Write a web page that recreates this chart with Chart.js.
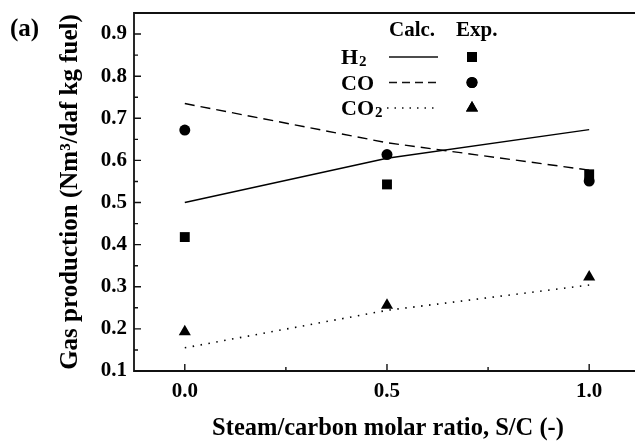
<!DOCTYPE html>
<html>
<head>
<meta charset="utf-8">
<script src="https://cdn.jsdelivr.net/npm/chart.js@4.4.0/dist/chart.umd.min.js"></script>
<style>
  html, body { margin: 0; padding: 0; background: #fff; overflow: hidden; }
  canvas { display: block; }
</style>
</head>
<body>
<canvas id="c" width="635" height="442"></canvas>
<script>
// ---- data ----
const ratios = [0.0, 0.5, 1.0];               // steam/carbon molar ratio
const h2Calc  = [0.500, 0.605, 0.673];
const coCalc  = [0.735, 0.642, 0.577];
const co2Calc = [0.155, 0.244, 0.304];
const h2Exp   = [0.418, 0.543, 0.567];
const coExp   = [0.672, 0.614, 0.551];
const co2Exp  = [0.193, 0.256, 0.323];
const xTickValues = [0.0, 0.5, 1.0];
const xMinorValues = [0.25, 0.75];
const yTickValues = [0.1, 0.2, 0.3, 0.4, 0.5, 0.6, 0.7, 0.8, 0.9];
const yMinorValues = [0.15, 0.25, 0.35, 0.45, 0.55, 0.65, 0.75, 0.85];
const xTitle = 'Steam/carbon molar ratio, S/C (-)';
const yTitle = 'Gas production (Nm\u00B3/daf kg fuel)';
const legendRows = [
  { name: 'H', sub: '2' },
  { name: 'CO', sub: '' },
  { name: 'CO', sub: '2' }
];

const SERIF = '"Liberation Serif", "Times New Roman", serif';
const pts = (ys) => ratios.map((x, i) => ({ x: x, y: ys[i] }));

const calcStyle = (ys, dash, w) => ({
  data: pts(ys), showLine: true, borderColor: '#000', borderWidth: w,
  borderDash: dash, pointRadius: 0, fill: false, tension: 0
});
const expStyle = (ys, shape, r) => ({
  data: pts(ys), showLine: false, pointStyle: shape, pointRadius: r,
  backgroundColor: '#000', borderColor: '#000', borderWidth: 0
});

const noPad = s => { s.paddingLeft = 0; s.paddingRight = 0; s.paddingTop = 0; s.paddingBottom = 0; };

const frame = {
  id: 'frame',
  afterDraw(chart) {
    const ctx = chart.ctx;
    const xs = chart.scales.x, ys = chart.scales.y;
    const a = chart.chartArea;
    const W = chart.width;
    ctx.save();
    ctx.strokeStyle = '#111';
    ctx.lineWidth = 1.8;
    // frame: top, left, bottom (right edge is cropped off in the reference)
    ctx.beginPath();
    ctx.moveTo(W, a.top); ctx.lineTo(a.left, a.top);
    ctx.lineTo(a.left, a.bottom); ctx.lineTo(W, a.bottom);
    ctx.stroke();
    ctx.lineWidth = 1.4;
    // inward ticks
    ctx.beginPath();
    yTickValues.forEach(v => { const p = ys.getPixelForValue(v); ctx.moveTo(a.left, p); ctx.lineTo(a.left + 7, p); });
    yMinorValues.forEach(v => { const p = ys.getPixelForValue(v); ctx.moveTo(a.left, p); ctx.lineTo(a.left + 4, p); });
    xTickValues.forEach(v => { const p = xs.getPixelForValue(v); ctx.moveTo(p, a.bottom); ctx.lineTo(p, a.bottom - 7); });
    xMinorValues.forEach(v => { const p = xs.getPixelForValue(v); ctx.moveTo(p, a.bottom); ctx.lineTo(p, a.bottom - 4); });
    ctx.stroke();

    ctx.fillStyle = '#000';
    // x-axis title
    ctx.textAlign = 'center';
    ctx.textBaseline = 'alphabetic';
    ctx.font = 'bold 24.5px ' + SERIF;
    ctx.fillText(xTitle, 388, 435);

    // panel label
    ctx.textAlign = 'left';
    ctx.font = 'bold 25px ' + SERIF;
    ctx.fillText('(a)', 10, 36);

    // legend table
    ctx.font = 'bold 21px ' + SERIF;
    ctx.fillText('Calc.', 389, 36);
    ctx.fillText('Exp.', 456, 36);
    const rowY = [57, 82.5, 108];
    const dashes = [[], [8, 5], [1.5, 6]];
    const shapes = ['rect', 'circle', 'triangle'];
    const radii = [7, 5.5, 7];
    legendRows.forEach((r, i) => {
      const y = rowY[i];
      ctx.font = 'bold 22px ' + SERIF;
      ctx.fillText(r.name, 341, y + 7);
      if (r.sub) {
        const w = ctx.measureText(r.name).width;
        ctx.font = 'bold 15px ' + SERIF;
        ctx.fillText(r.sub, 341 + w + 1, y + 9);
      }
      ctx.save();
      ctx.lineWidth = i === 2 ? 1.6 : 1.4;
      ctx.setLineDash(dashes[i]);
      ctx.beginPath();
      ctx.moveTo(i === 2 ? 387 : 389, y); ctx.lineTo(438, y);
      ctx.stroke();
      ctx.restore();
      Chart.helpers.drawPoint(ctx, { pointStyle: shapes[i], radius: radii[i], borderWidth: 0 }, 472, y);
      ctx.fill();
    });
    ctx.restore();
  }
};

new Chart(document.getElementById('c'), {
  type: 'scatter',
  data: {
    datasets: [
      calcStyle(h2Calc, [], 1.4),
      calcStyle(coCalc, [10, 6], 1.4),
      calcStyle(co2Calc, [1.5, 6.5], 1.6),
      expStyle(h2Exp, 'rect', 7),
      expStyle(coExp, 'circle', 5.5),
      expStyle(co2Exp, 'triangle', 7)
    ]
  },
  options: {
    responsive: false,
    animation: false,
    layout: { padding: { top: 13, right: 0, left: 0, bottom: 0 } },
    plugins: { legend: { display: false }, tooltip: { enabled: false } },
    scales: {
      x: {
        type: 'linear', min: -0.1256, max: 1.096,
        afterBuildTicks: s => { s.ticks = xTickValues.map(v => ({ value: v })); },
        afterFit: s => { s.height = 71; noPad(s); },
        grid: { display: false, drawTicks: false },
        border: { display: false },
        ticks: {
          padding: 8, color: '#000',
          font: { family: SERIF, size: 21, weight: 'bold' },
          callback: v => Number(v).toFixed(1)
        },
        title: { display: false }
      },
      y: {
        type: 'linear', min: 0.1, max: 0.95,
        afterBuildTicks: s => { s.ticks = yTickValues.map(v => ({ value: v })); },
        afterFit: s => { s.width = 134; noPad(s); },
        grid: { display: false, drawTicks: false },
        border: { display: false },
        ticks: {
          padding: 7, color: '#000',
          font: { family: SERIF, size: 21, weight: 'bold' },
          callback: v => Number(v).toFixed(1)
        },
        title: {
          display: true, text: yTitle, color: '#000',
          font: { family: SERIF, size: 25, weight: 'bold' },
          padding: { top: 56, bottom: 0 }
        }
      }
    }
  },
  plugins: [frame]
});
</script>
</body>
</html>
